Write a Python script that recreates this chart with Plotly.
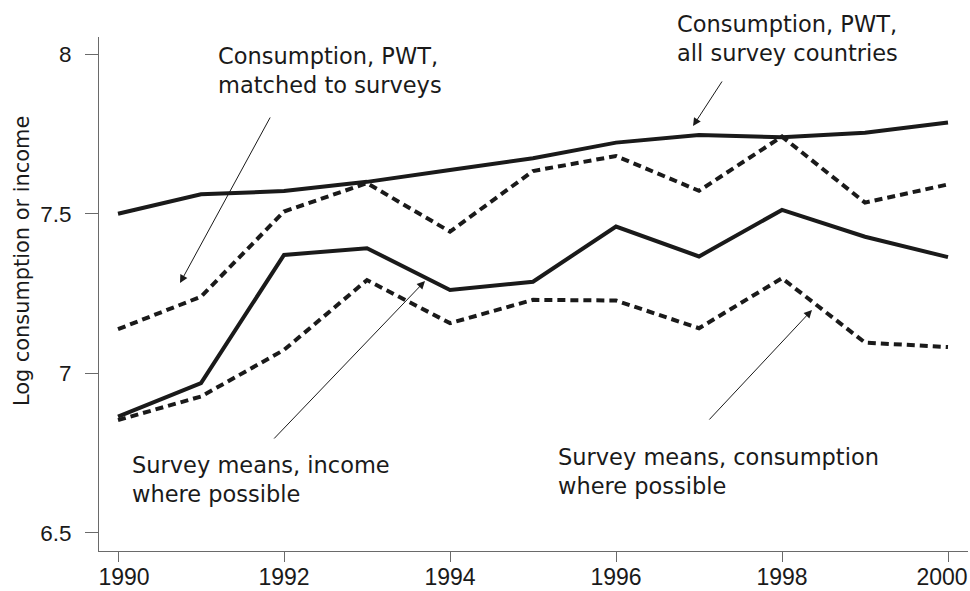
import plotly.graph_objects as go

years = [1990, 1991, 1992, 1993, 1994, 1995, 1996, 1997, 1998, 1999, 2000]
pwt_all = [7.500, 7.561, 7.571, 7.600, 7.637, 7.674, 7.723, 7.747, 7.740, 7.754, 7.786]
pwt_matched = [7.138, 7.240, 7.507, 7.596, 7.444, 7.634, 7.681, 7.572, 7.742, 7.535, 7.592]
survey_income = [6.864, 6.969, 7.371, 7.392, 7.261, 7.287, 7.460, 7.366, 7.512, 7.428, 7.364]
survey_cons = [6.853, 6.927, 7.073, 7.292, 7.157, 7.230, 7.228, 7.141, 7.298, 7.096, 7.082]

x_ticks = [1990, 1992, 1994, 1996, 1998, 2000]
x_tick_text = ["1990", "1992", "1994", "1996", "1998", "2000"]
y_ticks = [6.5, 7, 7.5, 8]
y_tick_text = ["6.5", "7", "7.5", "8"]

INK = "#1a1a1a"
AXIS = "#6a6a6a"
X_RANGE = [1989.771, 2000.241]

fig = go.Figure()
series = [
    (pwt_all, "solid"),
    (pwt_matched, "8px,5px"),
    (survey_income, "solid"),
    (survey_cons, "8px,5px"),
]
for vals, dash in series:
    fig.add_trace(go.Scatter(x=years, y=vals, mode="lines",
                             line=dict(color=INK, width=4, dash=dash),
                             showlegend=False, hoverinfo="skip"))

# invisible anchors so the end-label axes get drawn
for ax_name, xs in (("x2", years[:1]), ("x3", years[-1:])):
    fig.add_trace(go.Scatter(x=xs, y=pwt_all[:1], xaxis=ax_name, yaxis="y",
                             mode="markers", marker=dict(opacity=0, size=1),
                             showlegend=False, hoverinfo="skip"))

TXT = dict(family="DejaVu Sans, Liberation Sans, Arial", size=22.5, color=INK)

# label positions in paper coordinates (x, top of box)
labels = [
    ("Consumption, PWT,<br>matched to surveys", 0.1352, 0.9922),
    ("Consumption, PWT,<br>all survey countries", 0.6625, 1.0545),
    ("Survey means, income<br>where possible", 0.0355, 0.1960),
    ("Survey means, consumption<br>where possible", 0.5263, 0.2117),
]
annotations = []
for text, x, y in labels:
    annotations.append(dict(text=text, x=x, y=y, xref="paper", yref="paper",
                            xanchor="left", yanchor="top", align="left",
                            showarrow=False, font=TXT))

arrows = [
    ((1991.843, 7.8065), (1990.747, 7.2828)),
    ((1997.289, 7.9194), (1996.928, 7.7751)),
    ((1991.864, 6.7906), (1993.699, 7.2891)),
    ((1997.108, 6.8502), (1998.361, 7.1983)),
]
for (tx, ty), (hx, hy) in arrows:
    annotations.append(dict(text="", x=hx, y=hy, ax=tx, ay=ty,
                            xref="x", yref="y", axref="x", ayref="y",
                            showarrow=True, arrowhead=2, arrowsize=1.6,
                            arrowwidth=1, arrowcolor=INK, standoff=0))

annotations.append(dict(text="Log consumption or income", xref="paper", yref="paper",
                        x=-0.0886, y=0.564, xanchor="center", yanchor="middle",
                        textangle=-90, showarrow=False,
                        font=dict(family="DejaVu Sans, Liberation Sans, Arial", size=20.9, color=INK)))

XTICKFONT = dict(family="Liberation Sans, Arial", size=23, color=INK)
tick_common = dict(range=X_RANGE, showgrid=False, zeroline=False,
                   ticks="outside", ticklen=10, tickcolor=AXIS, tickwidth=1,
                   ticklabelstandoff=-5, tickfont=XTICKFONT)

fig.update_layout(
    width=970, height=591,
    margin=dict(l=99, r=2, t=37, b=40),
    paper_bgcolor="white", plot_bgcolor="white",
    annotations=annotations,
    # inner tick labels
    xaxis=dict(tickvals=x_ticks[1:-1], ticktext=x_tick_text[1:-1],
               showline=True, linecolor=AXIS, linewidth=1, **tick_common),
    # end tick labels nudged inwards, as in the original
    xaxis2=dict(tickvals=x_ticks[:1], ticktext=x_tick_text[:1], overlaying="x",
                anchor="y", showline=False, ticklabelshift=6, **tick_common),
    xaxis3=dict(tickvals=x_ticks[-1:], ticktext=x_tick_text[-1:], overlaying="x",
                anchor="y", showline=False, ticklabelshift=-6, **tick_common),
    yaxis=dict(range=[6.4426, 8.0542], tickvals=y_ticks, ticktext=y_tick_text,
               showgrid=False, zeroline=False, showline=True, linecolor=AXIS, linewidth=1,
               ticks="outside", ticklen=13, tickcolor=AXIS, tickwidth=1,
               ticklabelstandoff=9,
               tickfont=dict(family="Liberation Sans, Arial", size=22.5, color=INK)),
)

fig.write_html(
    "out.html", config={"displayModeBar": False},
    post_script=("document.documentElement.style.overflow='hidden';"
                 "document.body.style.overflow='hidden';"
                 "document.body.style.margin='0';document.body.style.padding='0';"))
